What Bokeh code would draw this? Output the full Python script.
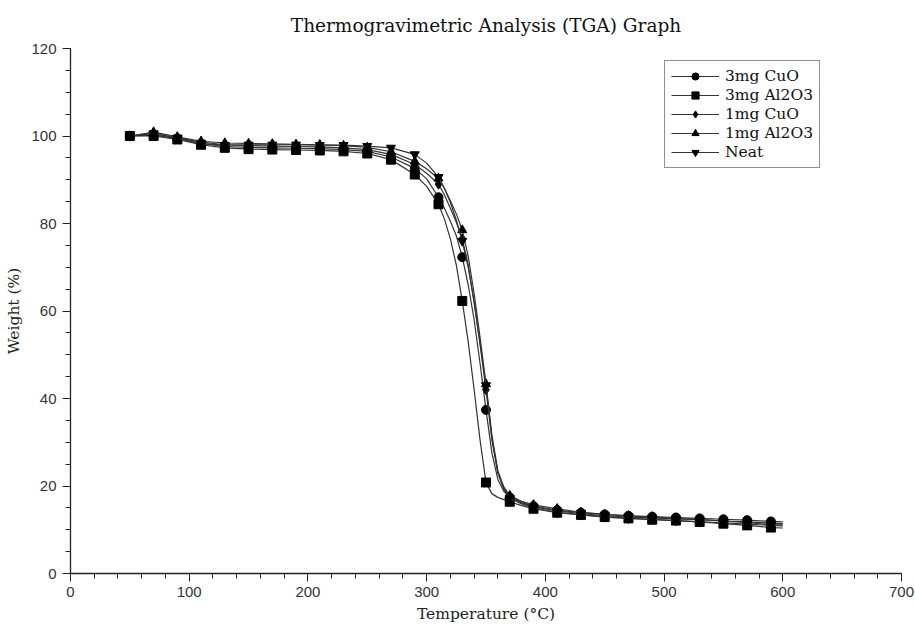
import numpy as np
from bokeh.plotting import figure
from bokeh.models import Legend, LegendItem, SingleIntervalTicker, Range1d
from bokeh.embed import file_html
from bokeh.resources import INLINE

# Temperature grid (°C) of the read-off curve points
temperature = [50, 70, 90, 110, 130, 150, 170, 190, 210, 230, 250, 270, 290, 300,
               310, 315, 320, 325, 330, 335, 340, 345, 350, 355, 360, 365, 370, 380,
               390, 410, 430, 450, 470, 490, 510, 530, 550, 570, 590, 600]

# Weight (%) for each sample
cuo_3mg = [100.0, 100.2, 99.4, 98.3, 97.6, 97.4, 97.3, 97.2, 97.1, 96.9, 96.5, 95.2, 92.6, 90.2,
           86.0, 83.5, 80.5, 77.2, 72.3, 66.0, 58.0, 48.0, 37.4, 27.5, 21.5, 18.8, 17.4, 16.2,
           15.4, 14.5, 13.9, 13.5, 13.2, 13.0, 12.8, 12.6, 12.4, 12.2, 11.9, 11.8]
al2o3_3mg = [100.0, 100.0, 99.2, 98.0, 97.3, 97.0, 96.9, 96.8, 96.7, 96.5, 96.0, 94.6, 91.2, 88.5,
             84.4, 81.0, 76.5, 70.5, 62.3, 53.0, 42.0, 30.5, 20.8, 18.2, 17.4, 16.9, 16.4, 15.5,
             14.8, 13.9, 13.4, 12.9, 12.6, 12.3, 12.1, 11.8, 11.4, 11.0, 10.5, 10.4]
cuo_1mg = [100.0, 100.5, 99.6, 98.6, 98.0, 97.8, 97.7, 97.6, 97.5, 97.3, 96.9, 95.8, 93.5, 91.5,
           89.0, 86.5, 83.5, 80.3, 76.5, 70.5, 62.0, 52.5, 42.0, 30.5, 23.0, 19.5, 17.6, 16.2,
           15.3, 14.3, 13.7, 13.2, 12.9, 12.7, 12.5, 12.3, 12.0, 11.8, 11.5, 11.4]
al2o3_1mg = [100.0, 100.9, 99.8, 98.8, 98.4, 98.3, 98.2, 98.1, 98.0, 97.8, 97.4, 96.4, 94.2, 92.5,
             90.3, 88.0, 85.2, 82.2, 78.5, 72.5, 64.0, 54.0, 43.3, 31.5, 23.5, 19.8, 17.8, 16.5,
             15.7, 14.8, 14.0, 13.5, 13.2, 12.9, 12.6, 12.3, 12.0, 11.6, 11.2, 11.1]
neat = [100.0, 100.6, 99.5, 98.2, 97.9, 98.0, 98.0, 98.0, 97.9, 97.9, 97.7, 97.3, 95.8, 93.8,
        90.6, 88.0, 84.8, 80.8, 76.0, 70.0, 62.0, 52.5, 43.0, 31.0, 23.0, 19.3, 17.2, 15.9,
        15.0, 14.0, 13.4, 13.0, 12.6, 12.4, 12.1, 11.8, 11.6, 11.3, 11.0, 10.9]

labels = ["3mg CuO", "3mg Al2O3", "1mg CuO", "1mg Al2O3", "Neat"]
series = [cuo_3mg, al2o3_3mg, cuo_1mg, al2o3_1mg, neat]
markers = ["circle", "square", "diamond", "triangle", "inverted_triangle"]
sizes = [9, 9, 10, 9, 9]

SERIF = "DejaVu Serif"
SANS = "Liberation Sans"

p = figure(width=915, height=625, output_backend="svg", toolbar_location=None,
           x_range=Range1d(0, 700), y_range=Range1d(0, 120),
           min_border_left=70, min_border_right=14, min_border_top=47, min_border_bottom=52,
           title="Thermogravimetric Analysis (TGA) Graph")
p.title.align = "center"
p.title.text_font = SERIF
p.title.text_font_size = "18.5px"
p.title.text_font_style = "normal"
p.title.text_color = "#111111"
p.title.standoff = 25
p.title.offset = 10

p.grid.visible = False
p.outline_line_color = None
p.background_fill_color = "white"
p.border_fill_color = "white"

p.xaxis.ticker = SingleIntervalTicker(interval=100, num_minor_ticks=5)
p.yaxis.ticker = SingleIntervalTicker(interval=20, num_minor_ticks=4)
for ax in (p.xaxis, p.yaxis):
    ax.axis_line_color = "#222222"
    ax.axis_line_width = 1.3
    ax.major_tick_line_color = "#222222"
    ax.minor_tick_line_color = "#222222"
    ax.major_tick_out = 8
    ax.major_tick_in = 0
    ax.minor_tick_out = 5
    ax.minor_tick_in = 0
    ax.major_label_text_font = SANS
    ax.major_label_text_font_size = "15px"
    ax.major_label_text_color = "#333333"
    ax.axis_label_text_font = SERIF
    ax.axis_label_text_font_size = "15.5px"
    ax.axis_label_text_font_style = "normal"
    ax.axis_label_text_color = "#222222"
p.xaxis.axis_label = "Temperature (°C)"
p.yaxis.axis_label = "Weight (%)"
p.xaxis.major_label_standoff = 5
p.yaxis.major_label_standoff = 6
p.xaxis.axis_label_standoff = 5
p.yaxis.axis_label_standoff = 5

t = np.array(temperature)
mask = (t % 20) == 10  # measured marker positions every 20 °C

items = []
for lab, ys, mk, sz in zip(labels, series, markers, sizes):
    y = np.array(ys)
    r_line = p.line(t, y, line_color="#333333", line_width=1.2)
    r_mk = p.scatter(t[mask], y[mask], marker=mk, size=sz, fill_color="black",
                     line_color="black")
    items.append(LegendItem(label=lab, renderers=[r_line, r_mk]))

legend = Legend(items=items, location=(594, 405))
legend.label_text_font = SERIF
legend.label_text_font_size = "15.5px"
legend.label_text_color = "#111111"
legend.border_line_color = "#222222"
legend.border_line_width = 1.2
legend.glyph_width = 48
legend.glyph_height = 18
legend.label_height = 18
legend.spacing = 1
legend.padding = 6
legend.margin = 0
legend.label_standoff = 6
legend.background_fill_alpha = 1.0
p.add_layout(legend, "center")

open("out.html", "w").write(file_html(p, INLINE))
